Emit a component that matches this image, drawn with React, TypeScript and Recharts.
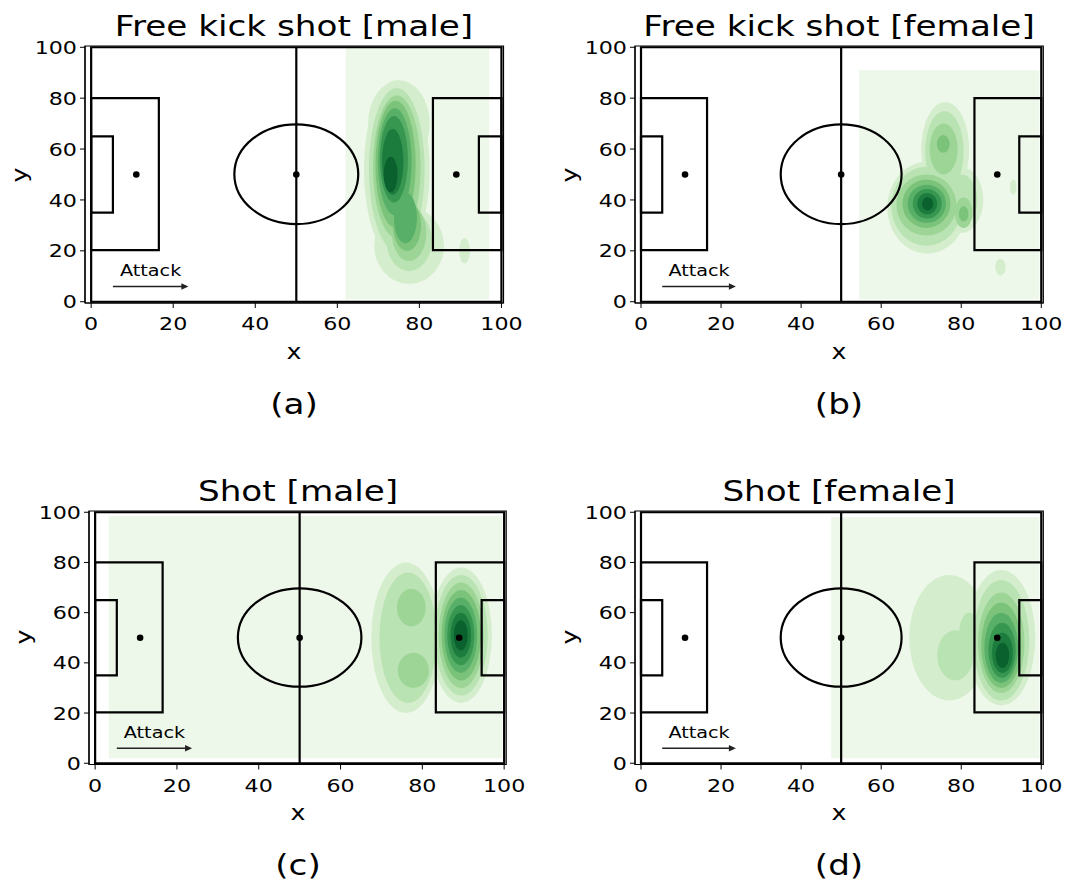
import React from 'react';
import { ComposedChart, XAxis, YAxis, ReferenceArea, ReferenceLine, Scatter } from 'recharts';

// blob = [centre x, centre y, half width, half height, contour level]
type Blob = [number, number, number, number, number];

const axisTicks = [0, 20, 40, 60, 80, 100];
const titles = ['Free kick shot [male]', 'Free kick shot [female]', 'Shot [male]', 'Shot [female]'];
const tags = ['(a)', '(b)', '(c)', '(d)'];

// lowest density level, drawn as a rectangle [x1, x2, y1, y2]
const freeKickMaleExtent = [62, 97, 1, 99.5];
const freeKickFemaleExtent = [54.5, 99.5, 1, 91];
const shotMaleExtent = [3.3, 99.5, 2, 98.5];
const shotFemaleExtent = [47.5, 99.5, 2, 98];

const freeKickMaleDensity: Blob[] = [
  [74.5, 52, 8, 35, 1], [75, 70, 7.5, 17, 1], [77.5, 22, 8.5, 15, 1], [91, 20, 1.3, 5, 1],
  [74.5, 52, 6.8, 32, 2], [77.5, 24, 5.5, 12, 2],
  [74.5, 53, 5.8, 28, 3], [77.5, 27, 4.2, 11, 3],
  [74.2, 54, 4.9, 25, 4], [77, 30, 3.4, 10, 4],
  [74, 55, 4.1, 21, 5], [76.6, 33, 2.8, 10, 5],
  [73.8, 56, 3.4, 17, 6],
  [73.5, 55, 2.6, 13, 7],
  [73, 50, 1.7, 7, 8],
];

const freeKickFemaleDensity: Blob[] = [
  [71.5, 37, 10, 18, 1], [76, 60, 6, 18.5, 1], [80, 40, 5.5, 13, 1], [89.8, 13.6, 1.3, 3.3, 1], [93, 45, 0.8, 3, 1],
  [71.3, 37.5, 8.8, 15.5, 2], [75.8, 59, 4.8, 16, 2], [80, 40, 4, 10, 2],
  [71.3, 38, 7.5, 12, 3], [75.6, 60, 3.5, 10, 3], [80.6, 35, 2.2, 6, 3],
  [71.3, 38.5, 6, 9.5, 4], [75.5, 62, 1.6, 3.5, 4], [80.6, 34.5, 1.2, 3, 4],
  [71.4, 38.5, 4.8, 7.5, 5],
  [71.5, 38.5, 3.6, 5.8, 6],
  [71.5, 38.5, 2.5, 4.2, 7],
  [71.6, 38.5, 1.4, 2.6, 8],
];

const shotMaleDensity: Blob[] = [
  [76, 50, 8.5, 30, 1], [89.5, 51, 7.5, 27, 1],
  [76.5, 50, 7, 26, 2], [89.5, 51, 6.5, 24, 2],
  [77.3, 62, 3.5, 7.5, 3], [77.8, 37, 3.8, 7, 3], [89.5, 51, 5.5, 21, 3],
  [89.5, 51, 4.8, 18, 4],
  [89.4, 51, 4, 15, 5],
  [89.4, 51, 3.3, 12, 6],
  [89.4, 51, 2.5, 9, 7],
  [89.4, 51, 1.7, 6, 8],
];

const shotFemaleDensity: Blob[] = [
  [77, 50, 10, 25, 1], [90, 50, 8.5, 27, 1],
  [78.5, 43, 4.5, 10, 2], [82, 52, 2.5, 8, 2], [90, 49, 7, 24, 2],
  [90, 48, 5.8, 20, 3],
  [90, 47, 5, 17, 4],
  [90, 46, 4.2, 14, 5],
  [90.2, 45, 3.4, 11, 6],
  [90.3, 44, 2.6, 8, 7],
  [90.3, 43, 1.7, 5, 8],
];

// pitch markings [x1, x2, y1, y2]
const pitchBoxes = [
  [0, 100, 0, 100],
  [0, 16.5, 20.3, 80],
  [0, 5.3, 35, 65],
  [83.3, 100, 20.3, 80],
  [94.5, 100, 35, 65],
];
const centreCircle = [34.9, 65.1, 30.5, 69.7];
const pitchSpots = [{ x: 11, y: 50 }, { x: 50, y: 50 }, { x: 89, y: 50 }];
const attackArrow = [5.3, 23.7, 6];

const greens = ['#eef8ea', '#d4eecd', '#bae3b3', '#9cd596', '#7bc37b', '#58af67', '#379650', '#1c7c3e', '#0a612e', '#03461e'];

const FONT = '"DejaVu Sans", sans-serif';
const STRETCH = 1.2;

const ellipseShape = (p: any) => (
  <ellipse
    cx={p.x + p.width / 2}
    cy={p.y + p.height / 2}
    rx={Math.abs(p.width) / 2}
    ry={Math.abs(p.height) / 2}
    fill={p.fill}
    stroke={p.stroke}
    strokeWidth={p.strokeWidth}
  />
);

const stretchAbout = (x: number) => `translate(${x},0) scale(${STRETCH},1) translate(${-x},0)`;

const XTick = (p: any) => (
  <text x={p.x} y={p.y} dy="0.71em" textAnchor="middle" fontSize={18.5} fontFamily={FONT} fill="#000" transform={stretchAbout(p.x)}>
    {p.payload.value}
  </text>
);

const YTick = (p: any) => (
  <text x={p.x} y={p.y} dy="0.355em" textAnchor="end" fontSize={18.5} fontFamily={FONT} fill="#000" transform={stretchAbout(p.x)}>
    {p.payload.value}
  </text>
);

const arrowShape = (p: any) => {
  const { x1, y1, x2, y2 } = p;
  const mid = (x1 + x2) / 2;
  return (
    <g>
      <line x1={x1} y1={y1} x2={x2 - 5} y2={y2} stroke="#222" strokeWidth={1.4} />
      <polygon points={`${x2},${y2} ${x2 - 7},${y2 - 3.3} ${x2 - 7},${y2 + 3.3}`} fill="#222" />
      <text x={mid} y={y1 - 10} textAnchor="middle" fontSize={16} fontFamily={FONT} fill="#000" transform={stretchAbout(mid)}>
        Attack
      </text>
    </g>
  );
};

const Txt = ({ x, y, size, text, rotate }: { x: number; y: number; size: number; text: string; rotate?: boolean }) => (
  <div
    style={{
      position: 'absolute',
      left: x,
      top: y,
      transform: `translate(-50%,-50%)${rotate ? ' rotate(-90deg)' : ''} scaleX(${STRETCH})`,
      fontFamily: FONT,
      fontSize: size,
      lineHeight: 1,
      whiteSpace: 'nowrap',
      color: '#000',
    }}
  >
    {text}
  </div>
);

type Box = { left: number; top: number; w: number; h: number };

const Panel = ({ box, title, tag, extent, blobs }: { box: Box; title: string; tag: string; extent: number[]; blobs: Blob[] }) => {
  const { left, top, w, h } = box;
  const ml = 10, ya = 60, mt = 20, xa = 40, mb = 10, mr = 20;
  const levels = [...blobs].sort((a, b) => a[4] - b[4]);
  const cx = left + w / 2;
  return (
    <>
      <Txt x={cx} y={top - 19} size={28.5} text={title} />
      <Txt x={cx} y={top + h + 49} size={21} text="x" />
      <Txt x={left - 65} y={top + h / 2} size={21} text="y" rotate />
      <Txt x={cx} y={top + h + 102} size={28.5} text={tag} />
      <div style={{ position: 'absolute', left: left - ml - ya, top: top - mt }}>
        <ComposedChart width={ml + ya + w + mr} height={mt + h + xa + mb} margin={{ top: mt, right: mr, bottom: mb, left: ml }}>
          <XAxis
            type="number"
            dataKey="x"
            domain={[-1.5, 100.5]}
            allowDataOverflow
            ticks={axisTicks}
            tick={XTick}
            tickSize={5}
            tickMargin={9}
            height={xa}
            axisLine={{ stroke: '#000', strokeWidth: 1.2 }}
            tickLine={{ stroke: '#000' }}
          />
          <YAxis
            type="number"
            domain={[-0.5, 100.5]}
            allowDataOverflow
            ticks={axisTicks}
            tick={YTick}
            tickSize={5}
            tickMargin={3}
            width={ya}
            axisLine={{ stroke: '#000', strokeWidth: 1.2 }}
            tickLine={{ stroke: '#000' }}
          />
          <ReferenceArea x1={extent[0]} x2={extent[1]} y1={extent[2]} y2={extent[3]} fill={greens[0]} fillOpacity={1} stroke="none" />
          {levels.map((b, i) => (
            <ReferenceArea
              key={`blob-${i}`}
              x1={b[0] - b[2]}
              x2={b[0] + b[2]}
              y1={b[1] - b[3]}
              y2={b[1] + b[3]}
              fill={greens[b[4]]}
              stroke="none"
              shape={ellipseShape}
            />
          ))}
          {pitchBoxes.map((r, i) => (
            <ReferenceArea key={`box-${i}`} x1={r[0]} x2={r[1]} y1={r[2]} y2={r[3]} fill="none" fillOpacity={0} stroke="#000" strokeWidth={2.2} />
          ))}
          <ReferenceArea
            x1={centreCircle[0]}
            x2={centreCircle[1]}
            y1={centreCircle[2]}
            y2={centreCircle[3]}
            fill="none"
            stroke="#000"
            strokeWidth={2.2}
            shape={ellipseShape}
          />
          <ReferenceArea x1={-1.5} x2={100.5} y1={-0.5} y2={100.5} fill="none" fillOpacity={0} stroke="#000" strokeWidth={1.2} ifOverflow="visible" />
          <ReferenceLine segment={[{ x: 50, y: 0 }, { x: 50, y: 100 }]} stroke="#000" strokeWidth={2.2} />
          <ReferenceLine
            segment={[{ x: attackArrow[0], y: attackArrow[2] }, { x: attackArrow[1], y: attackArrow[2] }]}
            stroke="#222"
            shape={arrowShape}
          />
          <Scatter
            data={pitchSpots}
            dataKey="y"
            isAnimationActive={false}
            shape={(p: any) => <circle cx={p.cx} cy={p.cy} r={3.3} fill="#000" />}
          />
        </ComposedChart>
      </div>
    </>
  );
};

const boxes: Box[] = [
  { left: 85, top: 46, w: 418.5, h: 257 },
  { left: 634.7, top: 46, w: 408.3, h: 257 },
  { left: 88.9, top: 510.7, w: 417.2, h: 253.5 },
  { left: 634.7, top: 510.7, w: 408.3, h: 253.5 },
];
const extents = [freeKickMaleExtent, freeKickFemaleExtent, shotMaleExtent, shotFemaleExtent];
const densities = [freeKickMaleDensity, freeKickFemaleDensity, shotMaleDensity, shotFemaleDensity];

export default function App() {
  return (
    <div style={{ position: 'absolute', left: 0, top: 0, width: 1074, height: 885, background: '#fff', overflow: 'hidden' }}>
      {boxes.map((b, i) => (
        <Panel key={i} box={b} title={titles[i]} tag={tags[i]} extent={extents[i]} blobs={densities[i]} />
      ))}
    </div>
  );
}
